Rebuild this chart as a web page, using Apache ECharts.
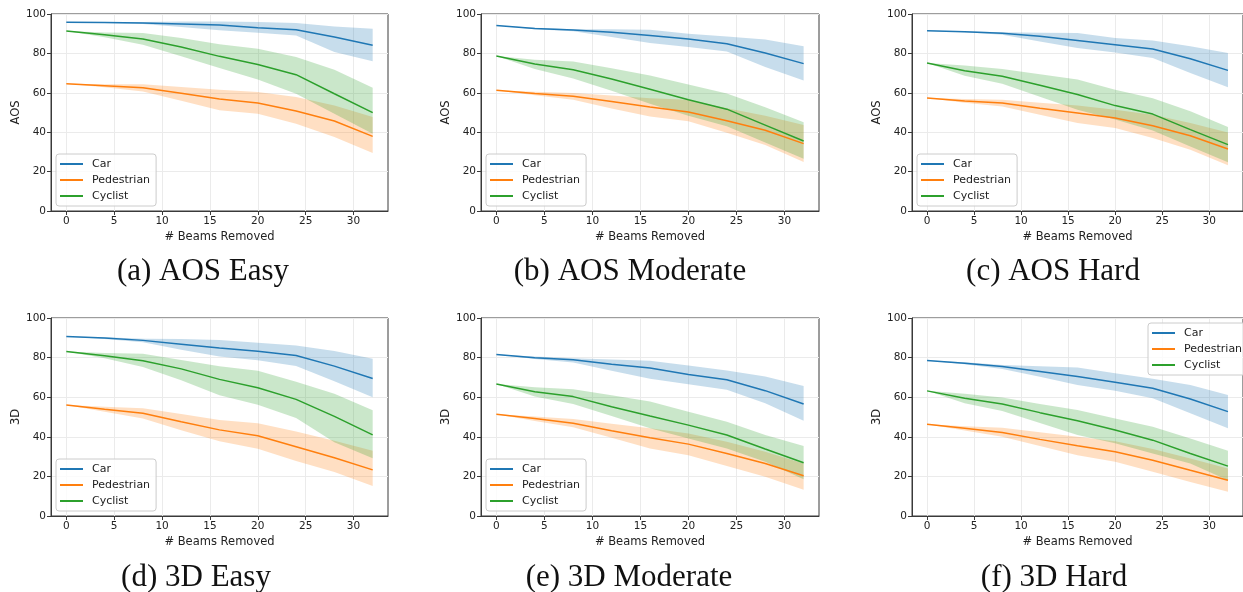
<!DOCTYPE html>
<html>
<head>
<meta charset="utf-8">
<script src="https://cdn.jsdelivr.net/npm/echarts@6/dist/echarts.min.js"></script>
<style>
html,body{margin:0;padding:0;background:#fff;}
#chart{width:1243px;height:592px;}
</style>
</head>
<body>
<div id="chart"></div>
<script>
// ---------- DATA ----------
const beamsRemoved = [0, 4, 8, 12, 16, 20, 24, 28, 32];
const classNames = ['Car', 'Pedestrian', 'Cyclist'];
const xTickLabels = [0, 5, 10, 15, 20, 25, 30];
const yTickLabels = [0, 20, 40, 60, 80, 100];
const panelCaptions = ['(a) AOS Easy', '(b) AOS Moderate', '(c) AOS Hard', '(d) 3D Easy', '(e) 3D Moderate', '(f) 3D Hard'];
const panelYLabels = ['AOS', 'AOS', 'AOS', '3D', '3D', '3D'];

// (a) AOS Easy
const aosEasyCarMid = [95.8, 95.7, 95.4, 94.9, 94.4, 93.0, 92.0, 88.3, 84.1];
const aosEasyCarHi  = [95.8, 96.0, 96.0, 96.2, 96.2, 96.0, 95.4, 93.7, 92.5];
const aosEasyCarLo  = [95.8, 95.4, 94.9, 93.4, 91.7, 90.5, 89.1, 80.7, 76.0];
const aosEasyPedMid = [64.6, 63.6, 62.6, 59.8, 56.8, 54.8, 50.8, 45.7, 37.9];
const aosEasyPedHi  = [64.6, 64.4, 64.3, 63.0, 61.6, 60.4, 57.9, 53.6, 47.7];
const aosEasyPedLo  = [64.6, 62.8, 60.7, 56.0, 51.1, 49.4, 44.3, 37.6, 29.4];
const aosEasyCycMid = [91.4, 89.5, 87.3, 83.2, 78.5, 74.4, 69.2, 59.5, 49.9];
const aosEasyCycHi  = [91.4, 90.6, 90.4, 87.8, 84.6, 82.4, 78.2, 71.7, 62.6];
const aosEasyCycLo  = [91.4, 88.2, 84.4, 78.5, 72.6, 66.7, 59.5, 49.4, 39.2];

// (b) AOS Moderate
const aosModCarMid = [94.2, 92.7, 91.9, 90.7, 89.1, 87.3, 84.9, 80.2, 74.8];
const aosModCarHi  = [94.2, 93.0, 92.3, 92.2, 92.0, 90.0, 88.6, 87.0, 83.6];
const aosModCarLo  = [94.2, 92.3, 91.3, 88.3, 85.3, 83.2, 81.0, 73.1, 66.3];
const aosModPedMid = [61.3, 59.6, 58.2, 55.6, 52.8, 50.3, 45.8, 41.0, 34.2];
const aosModPedHi  = [61.3, 60.5, 59.9, 58.6, 57.2, 56.5, 52.1, 48.3, 43.6];
const aosModPedLo  = [61.3, 58.8, 56.5, 52.0, 48.0, 45.6, 39.7, 33.5, 24.9];
const aosModCycMid = [78.7, 74.6, 71.7, 67.0, 61.8, 56.5, 51.7, 43.6, 35.5];
const aosModCycHi  = [78.7, 76.8, 75.9, 72.5, 68.8, 64.2, 59.7, 52.7, 45.0];
const aosModCycLo  = [78.7, 72.1, 67.3, 61.0, 54.5, 48.3, 43.0, 34.8, 26.5];

// (c) AOS Hard
const aosHardCarMid = [91.5, 91.0, 90.2, 88.7, 86.6, 84.4, 82.2, 77.3, 71.4];
const aosHardCarHi  = [91.5, 91.3, 90.7, 90.5, 90.4, 87.8, 86.5, 83.6, 80.2];
const aosHardCarLo  = [91.5, 90.7, 89.5, 86.0, 82.7, 80.5, 77.7, 70.1, 62.8];
const aosHardPedMid = [57.4, 55.8, 54.8, 52.1, 49.7, 47.2, 43.3, 38.2, 31.5];
const aosHardPedHi  = [57.4, 56.8, 56.5, 55.0, 53.5, 51.4, 48.9, 44.7, 39.9];
const aosHardPedLo  = [57.4, 54.9, 53.1, 48.9, 44.7, 42.1, 37.1, 31.1, 23.2];
const aosHardCycMid = [75.1, 71.2, 68.4, 63.8, 59.1, 53.5, 49.2, 41.3, 33.7];
const aosHardCycHi  = [75.1, 73.8, 72.1, 69.4, 66.7, 61.6, 57.2, 50.6, 42.6];
const aosHardCycLo  = [75.1, 68.7, 64.6, 58.0, 51.4, 46.4, 40.8, 32.8, 24.7];

// (d) 3D Easy
const d3EasyCarMid = [90.7, 89.9, 88.7, 86.8, 84.8, 83.2, 81.1, 75.7, 69.4];
const d3EasyCarHi  = [90.7, 90.3, 89.5, 89.4, 88.9, 87.5, 86.1, 83.3, 79.4];
const d3EasyCarLo  = [90.7, 89.4, 87.8, 84.0, 80.5, 78.6, 75.7, 68.1, 60.0];
const d3EasyPedMid = [56.1, 53.9, 51.9, 47.6, 43.5, 40.5, 35.0, 29.4, 23.3];
const d3EasyPedHi  = [56.1, 55.2, 54.4, 51.5, 48.5, 46.8, 42.7, 38.0, 33.0];
const d3EasyPedLo  = [56.1, 52.6, 49.3, 43.3, 37.8, 34.0, 27.8, 22.2, 15.2];
const d3EasyCycMid = [83.1, 80.9, 78.4, 74.3, 69.0, 64.8, 58.9, 50.3, 41.0];
const d3EasyCycHi  = [83.1, 82.3, 81.9, 78.8, 75.6, 73.3, 67.8, 61.7, 53.4];
const d3EasyCycLo  = [83.1, 79.7, 75.2, 68.5, 61.0, 56.2, 49.5, 37.3, 29.2];

// (e) 3D Moderate
const d3ModCarMid = [81.6, 79.9, 78.9, 76.7, 74.7, 71.5, 68.8, 63.3, 56.6];
const d3ModCarHi  = [81.6, 80.5, 79.7, 79.0, 78.4, 76.0, 73.5, 70.4, 65.7];
const d3ModCarLo  = [81.6, 79.3, 77.5, 73.4, 69.3, 66.6, 63.7, 56.9, 48.1];
const d3ModPedMid = [51.4, 49.3, 46.8, 43.1, 39.5, 36.3, 31.6, 26.5, 20.3];
const d3ModPedHi  = [51.4, 50.2, 49.0, 46.6, 44.3, 41.7, 37.5, 32.4, 26.5];
const d3ModPedLo  = [51.4, 48.0, 44.8, 39.5, 34.1, 30.7, 25.3, 19.8, 13.3];
const d3ModCycMid = [66.7, 62.8, 60.3, 55.2, 50.5, 45.9, 40.9, 33.8, 26.9];
const d3ModCycHi  = [66.7, 65.0, 64.0, 61.0, 57.8, 52.7, 47.6, 40.9, 35.3];
const d3ModCycLo  = [66.7, 60.3, 56.6, 50.5, 44.3, 39.2, 34.1, 27.4, 18.6];

// (f) 3D Hard
const d3HardCarMid = [78.5, 77.2, 75.5, 73.0, 70.4, 67.6, 64.5, 59.1, 52.7];
const d3HardCarHi  = [78.5, 77.6, 76.2, 75.6, 75.0, 72.1, 69.3, 66.2, 61.1];
const d3HardCarLo  = [78.5, 76.6, 74.3, 70.3, 66.2, 63.3, 59.5, 51.9, 44.3];
const d3HardPedMid = [46.3, 44.3, 42.2, 38.7, 35.5, 32.4, 28.2, 23.1, 18.1];
const d3HardPedHi  = [46.3, 45.3, 44.6, 42.3, 40.0, 37.8, 33.8, 29.1, 24.0];
const d3HardPedLo  = [46.3, 43.2, 40.0, 35.3, 30.7, 27.4, 22.3, 17.2, 12.2];
const d3HardCycMid = [63.2, 59.5, 56.6, 52.2, 48.1, 43.4, 38.3, 31.6, 25.2];
const d3HardCycHi  = [63.2, 61.7, 59.8, 56.6, 53.5, 49.3, 45.1, 39.2, 32.9];
const d3HardCycLo  = [63.2, 56.9, 53.0, 47.0, 40.9, 36.7, 31.6, 26.5, 18.1];

// ---------- ASSEMBLY ----------
const panels = [
  [[aosEasyCarMid, aosEasyCarLo, aosEasyCarHi], [aosEasyPedMid, aosEasyPedLo, aosEasyPedHi], [aosEasyCycMid, aosEasyCycLo, aosEasyCycHi]],
  [[aosModCarMid, aosModCarLo, aosModCarHi], [aosModPedMid, aosModPedLo, aosModPedHi], [aosModCycMid, aosModCycLo, aosModCycHi]],
  [[aosHardCarMid, aosHardCarLo, aosHardCarHi], [aosHardPedMid, aosHardPedLo, aosHardPedHi], [aosHardCycMid, aosHardCycLo, aosHardCycHi]],
  [[d3EasyCarMid, d3EasyCarLo, d3EasyCarHi], [d3EasyPedMid, d3EasyPedLo, d3EasyPedHi], [d3EasyCycMid, d3EasyCycLo, d3EasyCycHi]],
  [[d3ModCarMid, d3ModCarLo, d3ModCarHi], [d3ModPedMid, d3ModPedLo, d3ModPedHi], [d3ModCycMid, d3ModCycLo, d3ModCycHi]],
  [[d3HardCarMid, d3HardCarLo, d3HardCarHi], [d3HardPedMid, d3HardPedLo, d3HardPedHi], [d3HardCycMid, d3HardCycLo, d3HardCycHi]]
];

const colors = ['#1f77b4', '#ff7f0e', '#2ca02c'];
const bandColors = ['rgba(31,119,180,0.25)', 'rgba(255,127,14,0.25)', 'rgba(44,160,44,0.25)'];
const FONT = 'DejaVu Sans';

const gridLefts = [51, 481, 912];
const gridWidths = [337, 338, 338];
const gridTops = [14, 318];
const gridHeights = [197, 198];
const legendPos = [
  {left: 56, top: 154}, {left: 486, top: 154}, {left: 917, top: 154},
  {left: 56, top: 459}, {left: 486, top: 459}, {left: 1148, top: 323}
];
const captionPos = [[203, 272], [630, 272], [1053, 272], [196, 578], [629, 578], [1054, 578]];

const grids = [], xAxes = [], yAxes = [], series = [], legends = [], graphics = [];

function bandSeries(p, s, lo, hi) {
  return {
    type: 'custom', name: 'band-' + p + '-' + s, coordinateSystem: 'cartesian2d',
    xAxisIndex: p, yAxisIndex: p, silent: true, z: 1, clip: true,
    data: [[beamsRemoved[0], lo[0]]],
    renderItem: function (params, api) {
      const pts = [];
      for (let i = 0; i < beamsRemoved.length; i++) pts.push(api.coord([beamsRemoved[i], hi[i]]));
      for (let i = beamsRemoved.length - 1; i >= 0; i--) pts.push(api.coord([beamsRemoved[i], lo[i]]));
      return {type: 'polygon', shape: {points: pts}, style: {fill: bandColors[s], stroke: null}};
    }
  };
}

for (let p = 0; p < 6; p++) {
  const col = p % 3, row = Math.floor(p / 3);
  grids.push({
    left: gridLefts[col], top: gridTops[row], width: gridWidths[col], height: gridHeights[row],
    show: true, borderColor: '#3a3a3a', borderWidth: 1, backgroundColor: 'transparent', containLabel: false
  });
  xAxes.push({
    type: 'value', gridIndex: p, min: -1.6, max: 33.6, splitNumber: 7,
    name: '# Beams Removed', nameLocation: 'middle', nameGap: 20,
    nameTextStyle: {fontFamily: FONT, fontSize: 11.5, color: '#222'},
    axisLine: {show: true, onZero: false, lineStyle: {color: '#3a3a3a', width: 1}},
    axisTick: {show: true, length: 4, lineStyle: {color: '#3a3a3a'}, customValues: xTickLabels},
    axisLabel: {fontFamily: FONT, fontSize: 10.5, color: '#222', margin: 5, customValues: xTickLabels},
    splitLine: {show: true, lineStyle: {color: '#ebebeb', width: 1}}
  });
  yAxes.push({
    type: 'value', gridIndex: p, min: 0, max: 100, interval: 20,
    name: panelYLabels[p], nameLocation: 'middle', nameGap: 26, nameRotate: 90,
    nameTextStyle: {fontFamily: FONT, fontSize: 11.5, color: '#222'},
    axisLine: {show: true, onZero: false, lineStyle: {color: '#3a3a3a', width: 1}},
    axisTick: {show: true, length: 4, lineStyle: {color: '#3a3a3a'}, customValues: yTickLabels},
    axisLabel: {fontFamily: FONT, fontSize: 10.5, color: '#222', margin: 5, customValues: yTickLabels},
    splitLine: {show: true, lineStyle: {color: '#ebebeb', width: 1}}
  });
  for (let s = 0; s < 3; s++) {
    const [mid, lo, hi] = panels[p][s];
    series.push(bandSeries(p, s, lo, hi));
  }
  for (let s = 0; s < 3; s++) {
    const mid = panels[p][s][0];
    series.push({
      type: 'line', name: classNames[s], xAxisIndex: p, yAxisIndex: p,
      symbol: 'none', z: 3, color: colors[s],
      lineStyle: {color: colors[s], width: 1.5},
      data: beamsRemoved.map((x, i) => [x, mid[i]])
    });
  }
  legends.push({
    data: classNames, orient: 'vertical', left: legendPos[p].left, top: legendPos[p].top,
    icon: 'rect', itemWidth: 23, itemHeight: 2, itemGap: 0,
    padding: [2, 6, 2, 4],
    backgroundColor: 'rgba(255,255,255,0.8)', borderColor: '#cccccc', borderWidth: 1, borderRadius: 3,
    textStyle: {fontFamily: FONT, fontSize: 11, color: '#222', lineHeight: 16, padding: [0, 0, 0, 4]},
    selectedMode: false, z: 10
  });
  graphics.push({
    type: 'text', x: captionPos[p][0], y: captionPos[p][1], z: 10,
    style: {text: panelCaptions[p], font: '31px "Liberation Serif"', fill: '#111', textAlign: 'center', textVerticalAlign: 'middle'}
  });
}

const chart = echarts.init(document.getElementById('chart'), null, {renderer: 'canvas'});
chart.setOption({
  animation: false,
  backgroundColor: '#ffffff',
  grid: grids, xAxis: xAxes, yAxis: yAxes, series: series, legend: legends, graphic: graphics
});
</script>
</body>
</html>
